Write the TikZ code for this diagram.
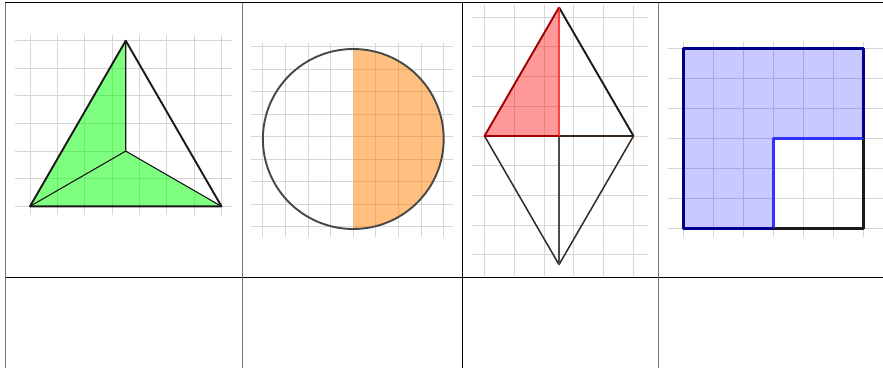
\documentclass[tikz,border=0pt]{standalone}
\usepackage{xcolor}
\usepackage{tikz}
\usetikzlibrary{positioning, calc}

\definecolor{navyline}{RGB}{0,0,140}
\definecolor{blueline}{RGB}{50,50,255}
\definecolor{darkred}{RGB}{160,0,0}
\definecolor{brownline}{RGB}{55,40,30}

\begin{document}
\begin{tikzpicture}[
  x=1pt, y=-1pt,
  gridline/.style={draw=black!16, line width=0.9pt},
  tabline/.style={draw=black, line width=0.9pt},
  tabgray/.style={draw=black!55, line width=0.9pt},
  edge/.style={draw=black!90, line width=1.9pt, line join=round},
  thinedge/.style={draw=black!90, line width=1.1pt},
  greenpart/.style={fill={rgb,255:red,0;green,255;blue,0}, fill opacity=0.5},
  orangepart/.style={fill={rgb,255:red,255;green,128;blue,0}, fill opacity=0.5},
  redpart/.style={fill={rgb,255:red,255;green,0;blue,0}, fill opacity=0.4},
  bluepart/.style={fill={rgb,255:red,0;green,0;blue,255}, fill opacity=0.21}
]
  \useasboundingbox[fill=white] (0,0) rectangle (883,368);

  \begin{scope}[shift={(30pt,-206.3pt)}, x=27.35pt, y=27.6pt]
    \foreach \i in {0,...,7} \draw[gridline] (\i,-0.33) -- (\i,6.2);
    \foreach \j in {0,...,6} \draw[gridline] (-0.55,\j) -- (7.4,\j);
    \coordinate (tL) at (0,0);
    \coordinate (tR) at (7,0);
    \coordinate (tA) at (3.5,6);
    \coordinate (tC) at (3.5,2);
    \fill[greenpart] (tL) -- (tA) -- (tC) -- (tR) -- cycle;
    \draw[thinedge] (tC) -- (tA) (tC) -- (tL) (tC) -- (tR);
    \draw[edge] (tL) -- (tA) -- (tR) -- cycle;
  \end{scope}

  \begin{scope}[shift={(353.3pt,-139pt)}, x=22.6pt, y=22.5pt]
    \foreach \i in {-4,...,4} \draw[gridline] (\i,-4.37) -- (\i,4.28);
    \foreach \j in {0,...,8} \draw[gridline] (-4.53,\j-3.9) -- (4.4,\j-3.9);
    \coordinate (cO) at (0,0);
    \coordinate (cB) at (0,-4);
    \fill[orangepart] (cB) arc[start angle=-90, end angle=90, radius=4] -- cycle;
    \draw[draw=black!72, line width=1.9pt] (cO) circle[radius=4];
  \end{scope}

  \begin{scope}[shift={(559pt,-136pt)}, x=29.8pt, y=29.7pt]
    \foreach \i in {-2.5,-1.5,...,2.5} \draw[gridline] (\i,-4.7) -- (\i,4.4);
    \foreach \j in {-4,...,4} \draw[gridline] (-2.91,\j) -- (3.0,\j);
    \coordinate (rL) at (-2.5,0);
    \coordinate (rR) at (2.5,0);
    \coordinate (rT) at (0,4.33);
    \coordinate (rB) at (0,-4.33);
    \coordinate (rC) at (0,0);
    \fill[redpart] (rL) -- (rT) -- (rC) -- cycle;
    \draw[edge, draw=brownline, line width=1.5pt] (rL) -- (rB) -- (rR);
    \draw[edge, draw=black!70] (rC) -- (rB);
    \draw[edge, draw=brownline, line width=1.5pt] (rC) -- (rR);
    \draw[edge] (rT) -- (rR);
    \draw[edge, draw=red!75, line width=1.5pt] (rC) -- (rT);
    \draw[edge, draw=darkred] (rC) -- (rL) -- (rT);
  \end{scope}

  \begin{scope}[shift={(683.3pt,-228.3pt)}, x=30pt, y=30pt]
    \foreach \i in {0,...,6} \draw[gridline] (\i,-0.3) -- (\i,6.2);
    \foreach \j in {0,...,6} \draw[gridline] (-0.5,\j) -- (6.7,\j);
    \coordinate (sA) at (0,0);
    \coordinate (sB) at (3,0);
    \coordinate (sC) at (6,0);
    \coordinate (sD) at (6,3);
    \coordinate (sE) at (6,6);
    \coordinate (sF) at (0,6);
    \coordinate (sG) at (3,3);
    \fill[bluepart] (sA) -- (sF) -- (sE) -- (sD) -- (sG) -- (sB) -- cycle;
    \draw[edge, line width=2.4pt] (sB) -- (sC) -- (sD);
    \draw[edge, draw=blueline, line width=2.4pt] (sB) -- (sG) -- (sD);
    \draw[edge, draw=navyline, line width=2.6pt] (sB) -- (sA) -- (sF) -- (sE) -- (sD);
  \end{scope}

  \coordinate (topL) at (5,2.5);
  \coordinate (topR) at (883,2.5);
  \coordinate (midL) at (5,277);
  \coordinate (midR) at (883,277);
  \draw[tabline] (topL) -- (topR);
  \draw[tabline] (midL) -- (midR);
  \draw[tabgray] (topL) -- (5,368);
  \draw[tabgray] (242,2.5) -- (242,368);
  \draw[tabline] (462,2.5) -- (462,368);
  \draw[tabgray] (658,2.5) -- (658,368);
\end{tikzpicture}
\end{document}
